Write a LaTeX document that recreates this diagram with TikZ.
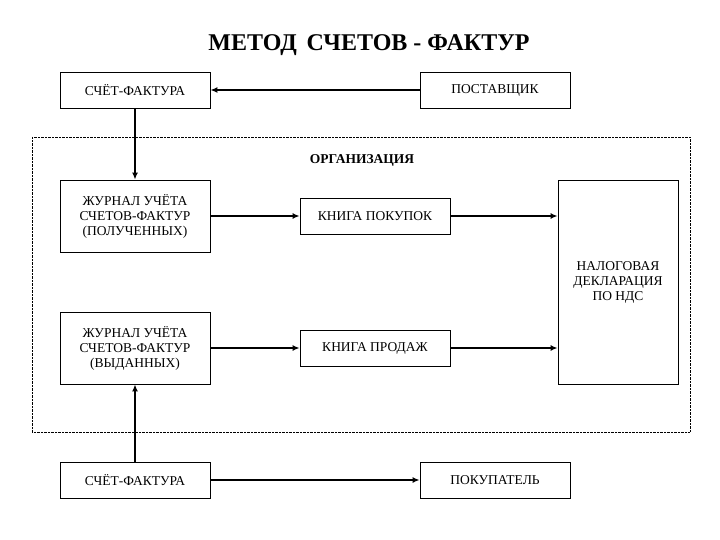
\documentclass[tikz,border=0pt]{standalone}
\usepackage{fontspec}
\setmainfont{Liberation Serif}
\usetikzlibrary{arrows.meta,positioning}

\begin{document}
\begin{tikzpicture}[
    x=1pt, y=-1pt,
    box/.style={rectangle, draw, thick, minimum width=150pt, minimum height=36pt, font=\fontsize{13.5}{15}\selectfont, inner sep=2pt},
    tall/.style={box, minimum height=72pt, align=center},
    arrow/.style={-{Latex[length=7pt,width=6pt]}, line width=1.6pt}
  ]
  \useasboundingbox (0,0) rectangle (720,540);

  \node[font=\fontsize{24}{28}\selectfont\bfseries] (title) at (369,45) {МЕТОД\, СЧЕТОВ - ФАКТУР};

  \draw[densely dotted] (32,137) rectangle (690,432);
  \node[font=\fontsize{13.5}{15}\selectfont\bfseries] (org) at (362,160) {ОРГАНИЗАЦИЯ};

  \node[box] (sf1) at (135,90) {СЧЁТ-ФАКТУРА};
  \node[box] (post) at (495,90) {ПОСТАВЩИК};
  \node[tall] (jr1) at (135,216) {ЖУРНАЛ УЧЁТА\\СЧЕТОВ-ФАКТУР\\(ПОЛУЧЕННЫХ)};
  \node[box] (kp) at (375,216) {КНИГА ПОКУПОК};
  \node[tall] (jr2) at (135,348) {ЖУРНАЛ УЧЁТА\\СЧЕТОВ-ФАКТУР\\(ВЫДАННЫХ)};
  \node[box] (kpr) at (375,348) {КНИГА ПРОДАЖ};
  \node[tall, minimum width=120pt, minimum height=204pt] (decl) at (618,282) {НАЛОГОВАЯ\\ДЕКЛАРАЦИЯ\\ПО НДС};
  \node[box] (sf2) at (135,480) {СЧЁТ-ФАКТУРА};
  \node[box] (pok) at (495,480) {ПОКУПАТЕЛЬ};

  \draw[arrow] (post) -- (sf1);
  \draw[arrow] (sf1) -- (jr1);
  \draw[arrow] (jr1) -- (kp);
  \draw[arrow] (kp) -- (kp -| decl.west);
  \draw[arrow] (jr2) -- (kpr);
  \draw[arrow] (kpr) -- (kpr -| decl.west);
  \draw[arrow] (sf2) -- (jr2);
  \draw[arrow] (sf2) -- (pok);
\end{tikzpicture}
\end{document}
